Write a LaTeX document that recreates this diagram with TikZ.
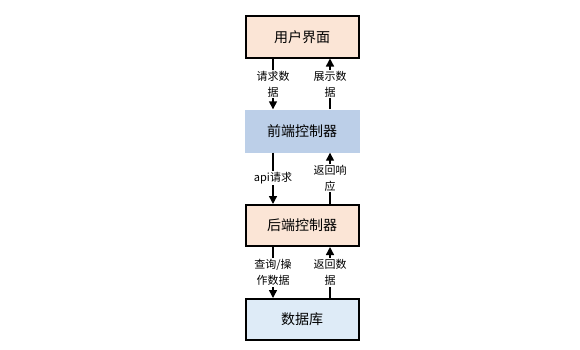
\documentclass[tikz,border=0pt]{standalone}
\usepackage{fontspec}
\setmainfont{Noto Sans CJK SC}
\usetikzlibrary{arrows.meta,calc}
\definecolor{peach}{HTML}{FBE5D6}
\definecolor{midblue}{HTML}{BCCFE8}
\definecolor{paleblue}{HTML}{DEEBF7}
\begin{document}
\begin{tikzpicture}[x=1pt,y=1pt,
  box/.style={minimum width=113pt, minimum height=41pt, inner sep=0pt, draw=black, line width=2pt, font=\fontsize{14}{16}\selectfont},
  plainbox/.style={minimum width=115pt, minimum height=43pt, inner sep=0pt, font=\fontsize{14}{16}\selectfont},
  conn/.style={line width=1.4pt, -{Triangle[length=8pt,width=8pt]}},
  lbl/.style={fill=white, inner sep=1pt, align=center, font=\fontsize{11}{16}\selectfont}
]
\useasboundingbox (0,0) rectangle (580,349);
\node[box, fill=peach] (ui) at (302,312) {用户界面};
\node[plainbox, fill=midblue] (fc) at (302,218) {前端控制器};
\node[box, fill=peach] (bc) at (302,123.5) {后端控制器};
\node[box, fill=paleblue] (db) at (302,29.5) {数据库};

\coordinate (a1s) at ($(ui.south)+(-29,0)$);
\coordinate (a1e) at ($(fc.north)+(-29,0)$);
\coordinate (a2s) at ($(fc.north)+(28,0)$);
\coordinate (a2e) at ($(ui.south)+(28,0)$);
\draw[conn] (a1s) -- node[lbl] {请求数\\据} (a1e);
\draw[conn] (a2s) -- node[lbl] {展示数\\据} (a2e);

\coordinate (b1s) at ($(fc.south)+(-29,0)$);
\coordinate (b1e) at ($(bc.north)+(-29,0)$);
\coordinate (b2s) at ($(bc.north)+(28,0)$);
\coordinate (b2e) at ($(fc.south)+(28,0)$);
\draw[conn] (b1s) -- node[lbl] {api请求} (b1e);
\draw[conn] (b2s) -- node[lbl] {返回响\\应} (b2e);

\coordinate (c1s) at ($(bc.south)+(-29,0)$);
\coordinate (c1e) at ($(db.north)+(-29,0)$);
\coordinate (c2s) at ($(db.north)+(28,0)$);
\coordinate (c2e) at ($(bc.south)+(28,0)$);
\draw[conn] (c1s) -- node[lbl] {查询/操\\作数据} (c1e);
\draw[conn] (c2s) -- node[lbl] {返回数\\据} (c2e);
\end{tikzpicture}
\end{document}
